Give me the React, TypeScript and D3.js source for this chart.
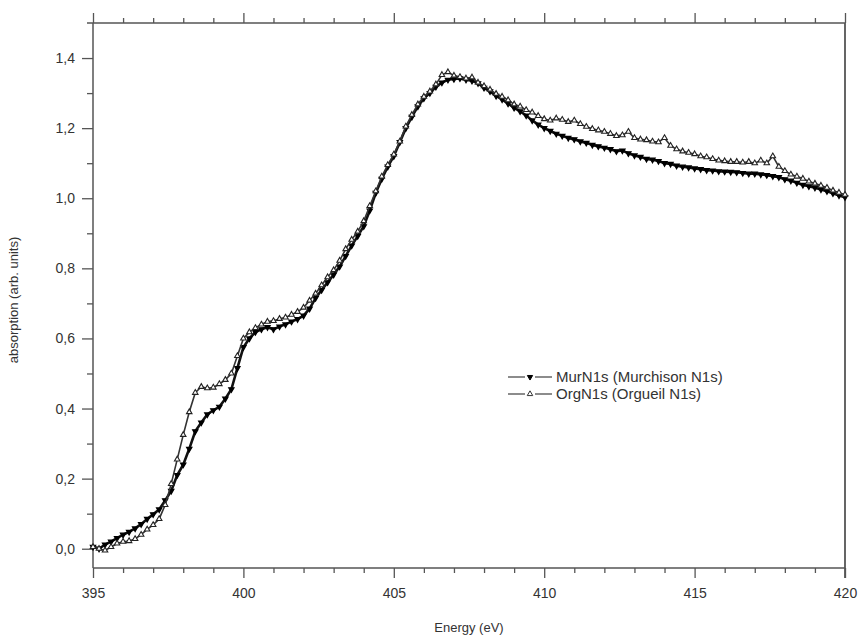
import React, { useEffect, useRef } from "react";
import * as d3 from "d3";

// energy grid: 395 → 420 eV, 0.2 eV steps
const E_START = 395;
const E_STEP = 0.2;

// Murchison N1s (one row per eV)
const murN1s = [
  0.005, 0.000, 0.012, 0.020, 0.030,
  0.040, 0.048, 0.058, 0.070, 0.085,
  0.098, 0.112, 0.138, 0.165, 0.210,
  0.240, 0.285, 0.335, 0.360, 0.383,
  0.395, 0.405, 0.428, 0.455, 0.515,
  0.575, 0.600, 0.618, 0.626, 0.632,
  0.626, 0.634, 0.640, 0.648, 0.655,
  0.665, 0.685, 0.715, 0.738, 0.760,
  0.782, 0.805, 0.835, 0.865, 0.892,
  0.920, 0.965, 1.015, 1.055, 1.090,
  1.120, 1.160, 1.200, 1.232, 1.262,
  1.285, 1.300, 1.318, 1.330, 1.338,
  1.340, 1.342, 1.338, 1.335, 1.328,
  1.315, 1.305, 1.292, 1.282, 1.270,
  1.258, 1.248, 1.236, 1.222, 1.210,
  1.200, 1.192, 1.184, 1.178, 1.172,
  1.168, 1.162, 1.158, 1.152, 1.148,
  1.144, 1.140, 1.134, 1.136, 1.128,
  1.122, 1.118, 1.112, 1.110, 1.106,
  1.100, 1.098, 1.093, 1.090, 1.088,
  1.085, 1.083, 1.080, 1.079, 1.077,
  1.076, 1.075, 1.074, 1.072, 1.070,
  1.070, 1.068, 1.066, 1.063, 1.060,
  1.054, 1.050, 1.044, 1.038, 1.034,
  1.030, 1.025, 1.020, 1.014, 1.008,
  1.003,
];

// Orgueil N1s
const orgN1s = [
  0.005, 0.000, -0.005, 0.005, 0.015,
  0.020, 0.022, 0.028, 0.040, 0.055,
  0.068, 0.085, 0.125, 0.185, 0.255,
  0.325, 0.390, 0.445, 0.462, 0.458,
  0.460, 0.470, 0.482, 0.500, 0.550,
  0.600, 0.618, 0.630, 0.640, 0.648,
  0.650, 0.656, 0.660, 0.668, 0.676,
  0.688, 0.708, 0.728, 0.752, 0.775,
  0.795, 0.822, 0.855, 0.882, 0.905,
  0.935, 0.978, 1.020, 1.062, 1.095,
  1.125, 1.162, 1.205, 1.238, 1.268,
  1.290, 1.305, 1.325, 1.352, 1.360,
  1.350, 1.346, 1.342, 1.345, 1.330,
  1.320, 1.310, 1.298, 1.290, 1.280,
  1.268, 1.262, 1.252, 1.245, 1.235,
  1.226, 1.222, 1.228, 1.224, 1.218,
  1.222, 1.212, 1.204, 1.198, 1.194,
  1.190, 1.184, 1.178, 1.180, 1.190,
  1.172, 1.168, 1.166, 1.162, 1.160,
  1.172, 1.150, 1.140, 1.134, 1.130,
  1.126, 1.120, 1.117, 1.112, 1.108,
  1.106, 1.104, 1.104, 1.102, 1.104,
  1.100, 1.108, 1.100, 1.120, 1.090,
  1.078, 1.068, 1.062, 1.056, 1.048,
  1.042, 1.036, 1.030, 1.022, 1.016,
  1.010,
];

const xTicks = [395, 400, 405, 410, 415, 420];
const yTicks = [0, 0.2, 0.4, 0.6, 0.8, 1.0, 1.2, 1.4];
const legendLabels = ["MurN1s (Murchison N1s)", "OrgN1s (Orgueil N1s)"];

const W = 861;
const H = 641;
const FONT = "Arial, 'Liberation Sans', sans-serif";
const AXIS = "#555";
const TXT = "#333";

export default function App() {
  const ref = useRef<SVGSVGElement>(null);

  useEffect(() => {
    const svg = d3.select(ref.current);
    svg.selectAll("*").remove();

    const left = 93, right = 845, top = 23, bottom = 568;
    const x = d3.scaleLinear().domain([395, 420]).range([left, right]);
    const y = d3.scaleLinear().domain([-0.055, 1.5]).range([bottom, top]);

    const fmt = (v: number) => d3.format(".1f")(v).replace(".", ",");
    const minorX = d3.range(395, 421, 1).filter(v => v % 5 !== 0);

    // axes
    const gb = svg.append("g").attr("transform", `translate(0,${bottom})`);
    gb.call(d3.axisBottom(x).tickValues(xTicks).tickSize(10).tickPadding(10).tickFormat(d3.format("d") as any));
    gb.append("g").call(d3.axisBottom(x).tickValues(minorX).tickSize(5).tickFormat(() => ""));
    const gt = svg.append("g").attr("transform", `translate(0,${top})`);
    gt.call(d3.axisTop(x).tickValues(xTicks).tickSize(10).tickFormat(() => ""));
    gt.append("g").call(d3.axisTop(x).tickValues(minorX).tickSize(5).tickFormat(() => ""));
    const gl = svg.append("g").attr("transform", `translate(${left},0)`);
    gl.call(d3.axisLeft(y).tickValues(yTicks).tickSize(11).tickPadding(7).tickFormat(fmt as any));
    gl.append("g").call(d3.axisLeft(y).tickValues([0.1, 0.3, 0.5, 0.7, 0.9, 1.1, 1.3]).tickSize(6).tickFormat(() => ""));

    svg.selectAll(".domain").remove();
    svg.selectAll(".tick line").attr("stroke", AXIS).attr("stroke-width", 1.3);
    svg.selectAll(".tick text").attr("fill", TXT).style("font-family", FONT).style("font-size", "14px");

    // frame
    svg.append("line").attr("x1", left).attr("x2", right).attr("y1", bottom).attr("y2", bottom).attr("stroke", AXIS).attr("stroke-width", 1.5);
    svg.append("line").attr("x1", left - 6).attr("x2", right).attr("y1", top).attr("y2", top).attr("stroke", AXIS).attr("stroke-width", 1.5);
    svg.append("line").attr("x1", left).attr("x2", left).attr("y1", top).attr("y2", bottom).attr("stroke", AXIS).attr("stroke-width", 1.5);
    svg.append("line").attr("x1", right).attr("x2", right).attr("y1", top).attr("y2", bottom + 10).attr("stroke", AXIS).attr("stroke-width", 1.8);

    // titles
    svg.append("text").attr("x", 469).attr("y", 632).attr("text-anchor", "middle")
      .attr("fill", TXT).style("font-family", FONT).style("font-size", "13px").text("Energy (eV)");
    svg.append("text").attr("transform", `translate(18,300) rotate(-90)`).attr("text-anchor", "middle")
      .attr("fill", TXT).style("font-family", FONT).style("font-size", "13px").text("absorption (arb. units)");

    const energies = murN1s.map((_, i) => E_START + i * E_STEP);
    const line = d3.line<number>().x((_, i) => x(energies[i])).y(d => y(d));

    const down = d3.symbol().type(d3.symbolTriangle).size(12);
    const up = d3.symbol().type(d3.symbolTriangle).size(13);

    // Murchison: black, filled down-triangles
    svg.append("path").attr("d", line(murN1s)).attr("fill", "none").attr("stroke", "#111").attr("stroke-width", 2.6);
    svg.append("g").selectAll("path").data(murN1s).join("path")
      .attr("d", down() as string)
      .attr("transform", (d, i) => `translate(${x(energies[i])},${y(d)}) rotate(180)`)
      .attr("fill", "#000").attr("stroke", "#000").attr("stroke-width", 1.2);

    // Orgueil: grey line, open up-triangles
    svg.append("path").attr("d", line(orgN1s)).attr("fill", "none").attr("stroke", "#333").attr("stroke-width", 1.6);
    svg.append("g").selectAll("path").data(orgN1s).join("path")
      .attr("d", up() as string)
      .attr("transform", (d, i) => `translate(${x(energies[i])},${y(d)})`)
      .attr("fill", "#fff").attr("stroke", "#222").attr("stroke-width", 1.1);

    // legend
    const lg = svg.append("g").attr("transform", "translate(508,377)");
    legendLabels.forEach((label, i) => {
      const row = lg.append("g").attr("transform", `translate(0,${i * 17})`);
      row.append("line").attr("x1", 0).attr("x2", 17).attr("y1", 0).attr("y2", 0)
        .attr("stroke", "#666").attr("stroke-width", 1.5);
      row.append("line").attr("x1", 27).attr("x2", 44).attr("y1", 0).attr("y2", 0)
        .attr("stroke", "#666").attr("stroke-width", 1.5);
      row.append("path").attr("d", (i === 0 ? down() : up()) as string)
        .attr("transform", `translate(22,0)${i === 0 ? " rotate(180)" : ""}`)
        .attr("fill", i === 0 ? "#000" : "#fff").attr("stroke", i === 0 ? "#000" : "#333");
      row.append("text").attr("x", 48).attr("y", 5).attr("fill", TXT)
        .style("font-family", FONT).style("font-size", "15px").text(label);
    });
  }, []);

  return (
    <svg ref={ref} width={W} height={H}
      style={{ position: "absolute", left: 0, top: 0, background: "#fff" }} />
  );
}
